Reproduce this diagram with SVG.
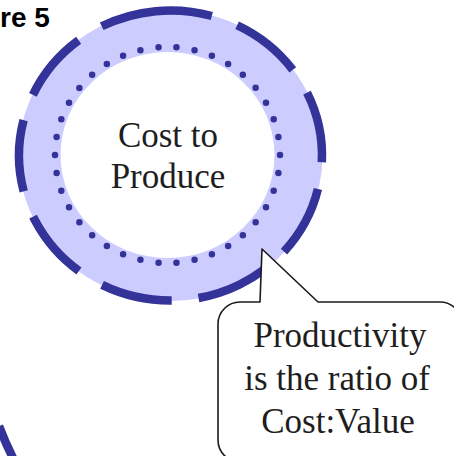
<svg xmlns="http://www.w3.org/2000/svg" width="454" height="456" viewBox="0 0 454 456">
  <style>
    .caption { font-family: "Liberation Sans", Arial, sans-serif; font-weight: bold; font-size: 28px; fill: #000; }
    .label { font-family: "Liberation Serif", "Times New Roman", serif; font-size: 35px; fill: #1e1e1e; text-anchor: middle; }
    .band { fill: #ccccff; }
    .core { fill: #ffffff; }
    .dashed { fill: none; stroke: #333399; stroke-width: 8.5; }
    .dotted { fill: none; stroke: #333399; stroke-width: 6.5; stroke-linecap: round; stroke-dasharray: 0 18.21; }
    .bubble { fill: #ffffff; stroke: #1a1a1a; stroke-width: 1.6; stroke-linejoin: round; }
  </style>

  <rect width="454" height="456" fill="#ffffff"/>

  <!-- figure caption, running off the left edge -->
  <text class="caption" x="0" y="27">re 5</text>

  <!-- edge of a neighbouring ring at the lower-left corner -->
  <g id="lower-ring">
    <path class="dashed" stroke-width="7" d="M -1,426 Q 5,442 13,458"/>
  </g>

  <!-- ring node: lavender band, dashed outer rim, dotted inner rim -->
  <g id="cost-to-produce">
    <ellipse class="band" cx="170.5" cy="155.5" rx="152" ry="145.5"/>
    <ellipse class="core" cx="167.5" cy="155" rx="107" ry="103"/>
    <path class="dashed" pathLength="932" stroke-dasharray="113 27 72 27 72 27 72 27 72 27 72 27 72 27 72 27 72 27"
          d="M 101.72,26.3 A 151.5 145 0 0 1 239.28,284.7 A 151.5 145 0 0 1 101.72,26.3 Z"/>
    <ellipse class="dotted" pathLength="692" cx="167.5" cy="155" rx="112.5" ry="108"/>
    <text class="label" x="168" y="147">Cost to</text>
    <text class="label" x="168" y="188">Produce</text>
  </g>

  <g id="connectors"/>

  <!-- rounded callout whose wedge points at the ring -->
  <g id="productivity-note">
    <path class="bubble" d="M 262,249 L 318,302 L 440,302 A 22 22 0 0 1 462,324 L 462,440 A 22 22 0 0 1 440,462 L 240,462 A 22 22 0 0 1 218,440 L 218,324 A 22 22 0 0 1 240,302 L 260,302 Z"/>
    <text class="label" x="340" y="347">Productivity</text>
    <text class="label" x="337" y="390">is the ratio of</text>
    <text class="label" x="338" y="433">Cost:Value</text>
  </g>
</svg>
